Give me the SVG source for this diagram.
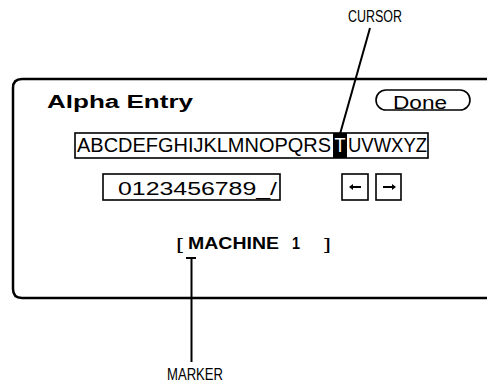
<svg xmlns="http://www.w3.org/2000/svg" width="487" height="382" viewBox="0 0 487 382">
<style>
.t{font-family:"Liberation Sans",Arial,sans-serif;fill:#000}
.b{font-weight:bold}
.box{fill:#fff;stroke:#000;stroke-width:1.6}
.ln{stroke:#000;stroke-width:2;fill:none}
</style>
<rect width="487" height="382" fill="#fff"/>
<g id="panel">
<path d="M500 79 H22 Q13 79 13 88 V289 Q13 298 22 298 H500" fill="#fff" stroke="#000" stroke-width="2.5"/>
</g>
<g id="title">
<text class="t b" x="47" y="108" font-size="17.5" textLength="146" lengthAdjust="spacingAndGlyphs">Alpha Entry</text>
</g>
<g id="done">
<rect x="376" y="90" width="94" height="20" rx="10" class="box"/>
<text class="t" x="393" y="109" font-size="18" textLength="54" lengthAdjust="spacingAndGlyphs">Done</text>
</g>
<g id="alphabet">
<rect x="75" y="133" width="353" height="25" class="box" stroke-width="2"/>
<rect x="333" y="133" width="14" height="25" fill="#000"/>
<text class="t" x="77" y="152" font-size="19.5" textLength="254" lengthAdjust="spacingAndGlyphs">ABCDEFGHIJKLMNOPQRS</text>
<text class="t" x="334.5" y="152" font-size="19.5" textLength="11" lengthAdjust="spacingAndGlyphs" fill="#fff" style="fill:#fff">T</text>
<text class="t" x="348" y="152" font-size="19.5" textLength="79" lengthAdjust="spacingAndGlyphs">UVWXYZ</text>
</g>
<g id="digits">
<rect x="103" y="174" width="177" height="26" class="box"/>
<text class="t" x="118" y="195" font-size="17.5" textLength="159" lengthAdjust="spacingAndGlyphs">0123456789_/</text>
</g>
<g id="left-arrow">
<rect x="342" y="174" width="26" height="26" class="box"/>
<path d="M350 187 H361" class="ln" stroke-width="1.5"/>
<path d="M349 187 L353 184 V190 Z" fill="#000"/>
</g>
<g id="right-arrow">
<rect x="376" y="174" width="25" height="26" class="box"/>
<path d="M383 187 H394" class="ln" stroke-width="1.5"/>
<path d="M396 187 L392 184 V190 Z" fill="#000"/>
</g>
<g id="machine">
<text class="t" x="176" y="250" font-size="16" textLength="7" lengthAdjust="spacingAndGlyphs">[</text>
<text class="t b" x="188" y="249" font-size="17" textLength="91" lengthAdjust="spacingAndGlyphs">MACHINE</text>
<text class="t b" x="292" y="249" font-size="17" textLength="8" lengthAdjust="spacingAndGlyphs">1</text>
<text class="t" x="324" y="250" font-size="16" textLength="7" lengthAdjust="spacingAndGlyphs">]</text>
</g>
<g id="connectors">
<path d="M370 28 L340 134" class="ln"/>
<path d="M186 258 H196 M191.5 258 V362" class="ln" stroke-width="2.5"/>
</g>
<g id="labels">
<text class="t" x="348" y="22" font-size="16" textLength="54" lengthAdjust="spacingAndGlyphs">CURSOR</text>
<text class="t" x="167" y="380" font-size="16" textLength="56" lengthAdjust="spacingAndGlyphs">MARKER</text>
</g>
</svg>
